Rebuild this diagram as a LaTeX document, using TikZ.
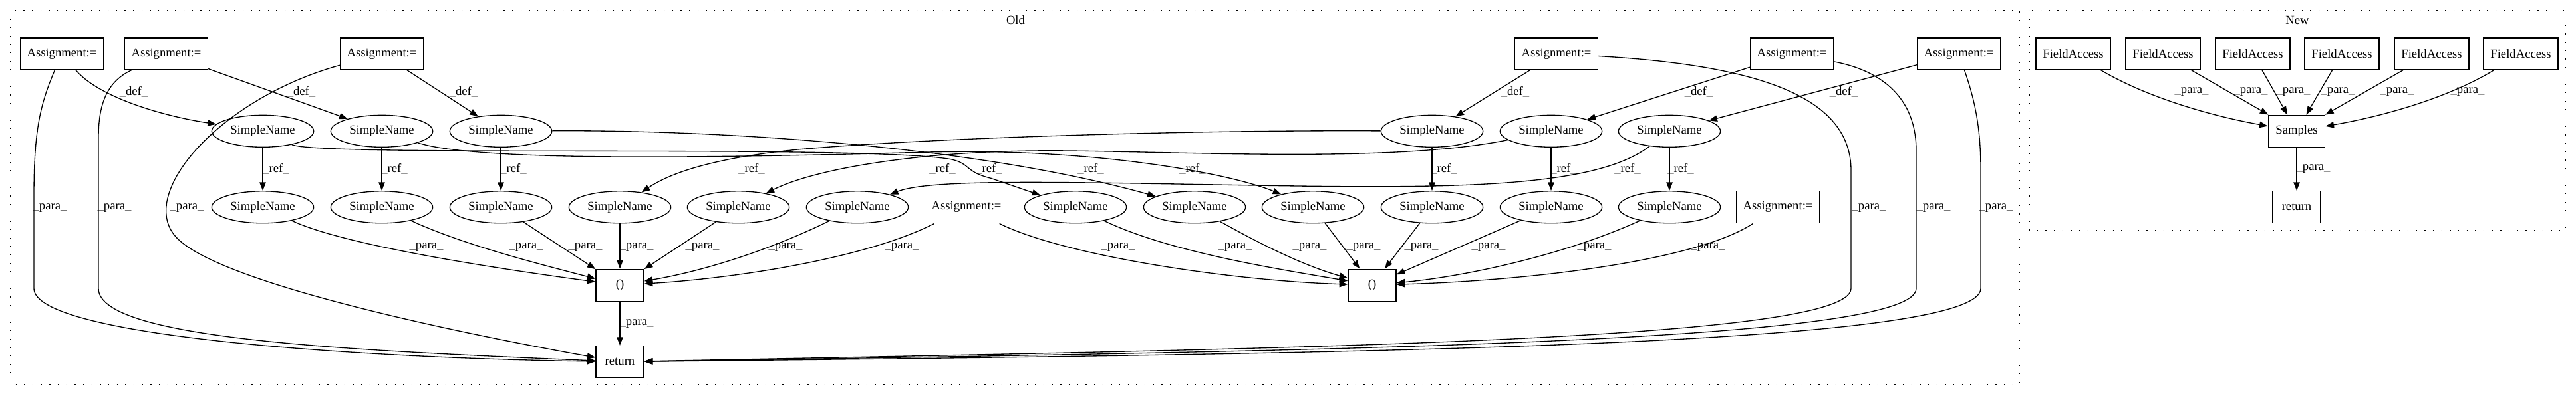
\documentclass[tikz,border=0pt]{standalone}
\usepackage{fontspec}
\setmainfont{Liberation Serif}
\usetikzlibrary{arrows.meta, shapes.geometric}

\begin{document}
\begin{tikzpicture}[x=0.75pt, y=-0.74pt,
    every node/.style={font=\fontsize{14}{16}\selectfont},
    opbox/.style={draw, line width=1pt, rectangle, minimum height=36pt, inner sep=0pt},
    assign/.style={opbox, minimum width=93.75pt},
    field/.style={opbox, minimum width=84pt},
    tinybox/.style={opbox, minimum width=54pt},
    sname/.style={draw, line width=1pt, ellipse, minimum width=115pt, minimum height=36pt, inner sep=0pt},
    flow/.style={line width=1pt, -{Triangle[length=9.5pt, width=7pt]}},
    lbl/.style={inner sep=0pt},
    clusterbox/.style={line width=1pt, dash pattern=on 1pt off 8.5pt}]
    \useasboundingbox (0,0) rectangle (3873,604);

    % Clusters
    \draw[clusterbox] (16,16) rectangle (3036,586);
    \draw[clusterbox] (3051,16) rectangle (3857,351);
    \node (old) at (1527,31) {Old};
    \node (new) at (3454,31) {New};

    % Old: assignments
    \node[assign] (a1) at (93,82) {Assignment:=};
    \node[assign] (a2) at (250,82) {Assignment:=};
    \node[assign] (a3) at (574,82) {Assignment:=};
    \node[assign] (a4) at (2340,82) {Assignment:=};
    \node[assign] (a5) at (2694,82) {Assignment:=};
    \node[assign] (a6) at (2945,82) {Assignment:=};

    % Old: defined names
    \node[sname] (s1) at (395,200) {SimpleName};
    \node[sname] (s2) at (574,200) {SimpleName};
    \node[sname] (s3) at (753,200) {SimpleName};
    \node[sname] (s4) at (2153,200) {SimpleName};
    \node[sname] (s5) at (2332,200) {SimpleName};
    \node[sname] (s6) at (2510,200) {SimpleName};

    % Old: referenced names
    \node[sname] (m1) at (395,316) {SimpleName};
    \node[sname] (m2) at (574,316) {SimpleName};
    \node[sname] (m3) at (753,316) {SimpleName};
    \node[sname] (m4) at (932,316) {SimpleName};
    \node[sname] (m5) at (1110,316) {SimpleName};
    \node[sname] (m6) at (1289,316) {SimpleName};
    \node[assign] (a7) at (1453,316) {Assignment:=};
    \node[sname] (m7) at (1617,316) {SimpleName};
    \node[sname] (m8) at (1796,316) {SimpleName};
    \node[sname] (m9) at (1974,316) {SimpleName};
    \node[sname] (m10) at (2153,316) {SimpleName};
    \node[sname] (m11) at (2332,316) {SimpleName};
    \node[sname] (m12) at (2510,316) {SimpleName};
    \node[assign] (a8) at (2673,316) {Assignment:=};

    % Old: calls and return
    \node[tinybox] (c1) at (932,435) {()};
    \node[tinybox] (c2) at (2063,435) {()};
    \node[tinybox] (ret) at (932,552) {return};

    % New
    \node[field] (f1) at (3117,82) {FieldAccess};
    \node[field] (f2) at (3252,82) {FieldAccess};
    \node[field] (f3) at (3387,82) {FieldAccess};
    \node[field] (f4) at (3521,82) {FieldAccess};
    \node[field] (f5) at (3656,82) {FieldAccess};
    \node[field] (f6) at (3790,82) {FieldAccess};
    \node[opbox, minimum width=64pt] (smp) at (3453,200) {Samples};
    \node[tinybox] (nret) at (3453,316) {return};

    % _def_ edges
    \draw[flow] (a1) .. controls (150,150) and (250,178) .. (s1) node[lbl] (d1) at (201,140) {\_def\_};
    \draw[flow] (a2) -- (s2) node[lbl] (d2) at (453,140) {\_def\_};
    \draw[flow] (a3) -- (s3) node[lbl] (d3) at (697,140) {\_def\_};
    \draw[flow] (a4) -- (s4) node[lbl] (d4) at (2278,140) {\_def\_};
    \draw[flow] (a5) -- (s5) node[lbl] (d5) at (2554,140) {\_def\_};
    \draw[flow] (a6) -- (s6) node[lbl] (d6) at (2772,140) {\_def\_};

    % _ref_ edges
    \draw[flow] (s1) -- (m1) node[lbl] (r1) at (415,258) {\_ref\_};
    \draw[flow] (s2) -- (m2) node[lbl] (r2) at (593,258) {\_ref\_};
    \draw[flow] (s3) -- (m3) node[lbl] (r3) at (772,258) {\_ref\_};
    \draw[flow] (s4) -- (m10) node[lbl] (r10) at (2171,258) {\_ref\_};
    \draw[flow] (s5) -- (m11) node[lbl] (r11) at (2351,258) {\_ref\_};
    \draw[flow] (s6) -- (m12) node[lbl] (r12) at (2527,258) {\_ref\_};
    \draw[flow] (s1) .. controls (480,240) and (1300,220) .. (1430,243) .. controls (1460,250) and (1450,262) .. (1490,272) -- (m7) node[lbl] (r7) at (1487,258) {\_ref\_};
    \draw[flow] (s2) .. controls (720,248) and (1100,240) .. (1400,232) .. controls (1650,226) and (1850,265) .. (m9) node[lbl] (r9) at (1793,258) {\_ref\_};
    \draw[flow] (s3) .. controls (1050,198) and (1450,218) .. (m8) node[lbl] (r8) at (1640,258) {\_ref\_};
    \draw[flow] (s4) .. controls (1800,198) and (1400,210) .. (1200,228) .. controls (1080,240) and (1010,262) .. (m4) node[lbl] (r4) at (1130,258) {\_ref\_};
    \draw[flow] (s5) .. controls (2100,248) and (1800,232) .. (1600,230) .. controls (1400,228) and (1230,255) .. (m5) node[lbl] (r5) at (1417,258) {\_ref\_};
    \draw[flow] (s6) .. controls (2400,285) and (2200,288) .. (1900,283) .. controls (1600,278) and (1400,272) .. (m6) node[lbl] (r6) at (2447,258) {\_ref\_};

    % _para_ edges into the calls
    \draw[flow] (m1) .. controls (520,375) and (750,410) .. (c1) node[lbl] (p1) at (641,377) {\_para\_};
    \draw[flow] (m2) .. controls (700,375) and (820,405) .. (c1) node[lbl] (p2) at (791,377) {\_para\_};
    \draw[flow] (m3) -- (c1) node[lbl] (p3) at (880,377) {\_para\_};
    \draw[flow] (m4) -- (c1) node[lbl] (p4) at (957,377) {\_para\_};
    \draw[flow] (m5) -- (c1) node[lbl] (p5) at (1056,377) {\_para\_};
    \draw[flow] (m6) .. controls (1150,385) and (1050,415) .. (c1) node[lbl] (p6) at (1181,377) {\_para\_};
    \draw[flow] (a7) .. controls (1300,395) and (1100,425) .. (c1) node[lbl] (p7) at (1356,377) {\_para\_};
    \draw[flow] (a7) .. controls (1600,390) and (1850,428) .. (c2) node[lbl] (p8) at (1681,377) {\_para\_};
    \draw[flow] (m7) .. controls (1760,385) and (1920,410) .. (c2) node[lbl] (p9) at (1857,377) {\_para\_};
    \draw[flow] (m8) .. controls (1900,375) and (1960,405) .. (c2) node[lbl] (p10) at (1969,377) {\_para\_};
    \draw[flow] (m9) -- (c2) node[lbl] (p11) at (2050,377) {\_para\_};
    \draw[flow] (m10) -- (c2) node[lbl] (p12) at (2137,377) {\_para\_};
    \draw[flow] (m11) -- (c2) node[lbl] (p13) at (2238,377) {\_para\_};
    \draw[flow] (m12) .. controls (2350,390) and (2200,422) .. (c2) node[lbl] (p14) at (2397,377) {\_para\_};
    \draw[flow] (a8) .. controls (2550,398) and (2300,428) .. (c2) node[lbl] (p15) at (2568,377) {\_para\_};
    \draw[flow] (c1) -- (ret) node[lbl] (p16) at (957,494) {\_para\_};

    % _para_ edges into return
    \draw[flow] (a1) .. controls (60,160) and (51,200) .. (51,300) -- (51,440) .. controls (51,510) and (500,545) .. (ret) node[lbl] (p17) at (75,317) {\_para\_};
    \draw[flow] (a2) .. controls (160,125) and (148,160) .. (148,210) -- (148,440) .. controls (148,520) and (550,535) .. (ret) node[lbl] (p18) at (172,317) {\_para\_};
    \draw[flow] (a3) .. controls (330,150) and (200,300) .. (268,365) .. controls (340,435) and (700,510) .. (ret) node[lbl] (p19) at (281,317) {\_para\_};
    \draw[flow] (a4) .. controls (2650,100) and (2783,150) .. (2783,260) -- (2783,440) .. controls (2783,522) and (1900,532) .. (ret) node[lbl] (p20) at (2810,317) {\_para\_};
    \draw[flow] (a5) .. controls (2830,108) and (2881,150) .. (2881,230) -- (2881,440) .. controls (2881,525) and (1950,536) .. (ret) node[lbl] (p21) at (2907,317) {\_para\_};
    \draw[flow] (a6) .. controls (2968,150) and (2978,190) .. (2978,260) -- (2978,440) .. controls (2978,530) and (2000,540) .. (ret) node[lbl] (p22) at (3001,317) {\_para\_};

    % New: edges
    \draw[flow] (f1) .. controls (3230,150) and (3330,178) .. (smp) node[lbl] (q1) at (3295,140) {\_para\_};
    \draw[flow] (f2) -- (smp) node[lbl] (q2) at (3384,140) {\_para\_};
    \draw[flow] (f3) -- (smp) node[lbl] (q3) at (3448,140) {\_para\_};
    \draw[flow] (f4) -- (smp) node[lbl] (q4) at (3515,140) {\_para\_};
    \draw[flow] (f5) -- (smp) node[lbl] (q5) at (3604,140) {\_para\_};
    \draw[flow] (f6) .. controls (3680,150) and (3580,178) .. (smp) node[lbl] (q6) at (3710,140) {\_para\_};
    \draw[flow] (smp) -- (nret) node[lbl] (q7) at (3478,258) {\_para\_};
\end{tikzpicture}
\end{document}
